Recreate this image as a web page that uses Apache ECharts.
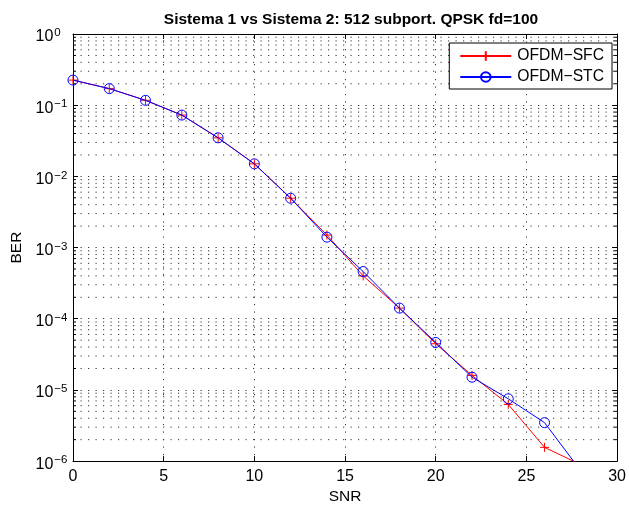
<!DOCTYPE html>
<html><head><meta charset="utf-8">
<script src="https://cdn.jsdelivr.net/npm/echarts@6/dist/echarts.min.js"></script>
<style>html,body{margin:0;padding:0;background:#fff}#c{width:629px;height:510px}</style>
</head><body><div id="c"></div>
<script>
const titleText = 'Sistema 1 vs Sistema 2: 512 subport. QPSK fd=100';
const snr = [0,2,4,6,8,10,12,14,16,18,20,22,24,26,28];
const berSFC = [0.225,0.171,0.117,0.0726,0.0348,0.0150,0.00493,0.00150,4.0e-4,1.41e-4,4.45e-5,1.6e-5,6.25e-6,1.56e-6,8.9e-7];
const berSTC = [0.225,0.171,0.117,0.0726,0.0348,0.0150,0.00493,0.00140,4.6e-4,1.41e-4,4.64e-5,1.51e-5,7.5e-6,3.47e-6,7.3e-7];
const seriesNames = ['OFDM\u2212SFC','OFDM\u2212STC'];
const xTicks = [0,5,10,15,20,25,30];
const yDecades = [-6,-5,-4,-3,-2,-1,0];

const minorVals = [];
for (let d = -6; d < 0; d++) for (let m = 2; m <= 9; m++) minorVals.push([0, m * Math.pow(10, d)]);

const font = "'Liberation Sans', Arial, Helvetica, sans-serif";
const chart = echarts.init(document.getElementById('c'), null, {renderer:'canvas'});
const dash = [1.2, 6.3];
const gridLine = {show:true, lineStyle:{color:'#333', type:dash, width:1}};
const plusPath = 'path://M0,5L10,5M5,0L5,10';

chart.setOption({
  animation:false,
  backgroundColor:'#fff',
  title:{text:titleText, left:346, top:7, textAlign:'center',
    textStyle:{fontFamily:font, fontSize:15.5, fontWeight:'bold', color:'#000'}},
  legend:{
    data:seriesNames, orient:'vertical', right:17, top:43,
    padding:[5,8,4,10], itemGap:5, itemWidth:51, itemHeight:12,
    borderColor:'#000', borderWidth:1, backgroundColor:'#fff', borderRadius:0,
    textStyle:{fontFamily:font, fontSize:15.7, lineHeight:16, color:'#000', padding:[0,0,0,1]}
  },
  grid:{left:73, right:8.5, top:34, bottom:44, containLabel:false},
  xAxis:[{
    type:'value', min:0, max:30, interval:5, position:'bottom',
    name:'SNR', nameLocation:'middle', nameGap:27,
    nameTextStyle:{fontFamily:font, fontSize:15.5, color:'#000'},
    axisLine:{show:true, onZero:false, lineStyle:{color:'#000', width:1}},
    axisTick:{show:true, inside:true, length:5, lineStyle:{color:'#000'}},
    axisLabel:{fontFamily:font, fontSize:16, color:'#000', margin:7},
    splitLine:gridLine
  },{
    type:'value', min:0, max:30, interval:5, position:'top',
    axisLine:{show:true, onZero:false, lineStyle:{color:'#000', width:1}},
    axisTick:{show:true, inside:true, length:5, lineStyle:{color:'#000'}},
    axisLabel:{show:false}, splitLine:{show:false}
  }],
  yAxis:[{
    type:'log', logBase:10, min:1e-6, max:1, position:'left',
    name:'BER', nameLocation:'middle', nameGap:46,
    nameTextStyle:{fontFamily:font, fontSize:15.5, color:'#000'},
    axisLine:{show:true, onZero:false, lineStyle:{color:'#000', width:1}},
    axisTick:{show:true, inside:true, length:5, lineStyle:{color:'#000'}},
    axisLabel:{margin:37.5, align:'left', color:'#000', padding:[6,0,0,0],
      formatter:function(v){const e=Math.round(Math.log10(v)); return '{b|10}{s|'+(e<0?'\u2212'+(-e):e)+'}';},
      rich:{b:{fontFamily:font, fontSize:16, color:'#000', lineHeight:20, verticalAlign:'middle'},
            s:{fontFamily:font, fontSize:11.5, color:'#000', verticalAlign:'top', lineHeight:4, padding:[0,0,0,1]}}},
    splitLine:gridLine
  },{
    type:'log', logBase:10, min:1e-6, max:1, position:'right',
    axisLine:{show:true, onZero:false, lineStyle:{color:'#000', width:1}},
    axisTick:{show:true, inside:true, length:5, lineStyle:{color:'#000'}},
    axisLabel:{show:false}, splitLine:{show:false}
  }],
  series:[{
    type:'custom', name:'minor', silent:true, clip:false, z:1,
    xAxisIndex:0, yAxisIndex:0,
    data:minorVals,
    renderItem:function(params, api){
      const y = api.value(1);
      const p1 = api.coord([0, y]); const p2 = api.coord([30, y]);
      return {type:'group', children:[
        {type:'line', shape:{x1:p1[0], y1:p1[1], x2:p2[0], y2:p2[1]}, style:{stroke:'#333', lineWidth:1, lineDash:dash}},
        {type:'line', shape:{x1:p1[0], y1:p1[1], x2:p1[0]+3, y2:p1[1]}, style:{stroke:'#000', lineWidth:1}},
        {type:'line', shape:{x1:p2[0]-3, y1:p2[1], x2:p2[0], y2:p2[1]}, style:{stroke:'#000', lineWidth:1}}
      ]};
    }
  },{
    type:'line', name:seriesNames[0], data:snr.map((x,i)=>[x,berSFC[i]]),
    symbol:plusPath, symbolSize:9, showAllSymbol:true, clip:true, z:3,
    lineStyle:{color:'#ff0000', width:1},
    itemStyle:{color:'#ff0000', borderColor:'#ff0000', borderWidth:1}
  },{
    type:'line', name:seriesNames[1], data:snr.map((x,i)=>[x,berSTC[i]]),
    symbol:'circle', symbolSize:10, showAllSymbol:true, clip:true, z:4,
    lineStyle:{color:'#0000ff', width:1},
    itemStyle:{color:'rgba(0,0,0,0)', borderColor:'#0000ff', borderWidth:1}
  }]
});
</script></body></html>
